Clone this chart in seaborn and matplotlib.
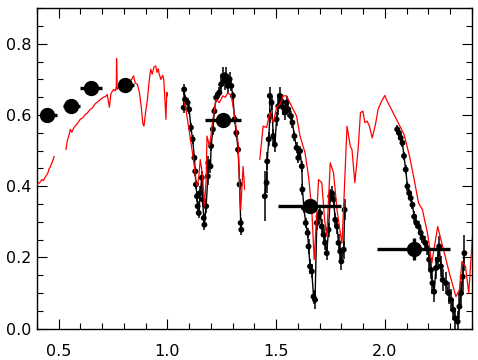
import numpy as np
import pandas as pd
import matplotlib
matplotlib.use("Agg")
import matplotlib.pyplot as plt
from matplotlib.ticker import MultipleLocator
import seaborn as sns

# model spectrum (red), split in pieces where the model has gaps
model_a_x = [0.400, 0.412, 0.423, 0.430, 0.437, 0.445, 0.451, 0.456, 0.460, 0.466, 0.470, 0.474, 0.479]
model_a_y = [0.405, 0.410, 0.419, 0.416, 0.425, 0.432, 0.439, 0.450, 0.453, 0.462, 0.468, 0.475, 0.484]

model_b_x = [0.533, 0.540, 0.548, 0.553, 0.560, 0.570, 0.580, 0.590, 0.599, 0.610, 0.620, 0.630,
             0.645, 0.655, 0.665, 0.680, 0.692, 0.705, 0.715, 0.723, 0.733, 0.740, 0.752, 0.760,
             0.765, 0.766, 0.769, 0.780, 0.795, 0.805, 0.815, 0.825, 0.835, 0.844, 0.852, 0.862,
             0.872, 0.880, 0.887, 0.892, 0.900, 0.908, 0.915, 0.923, 0.930, 0.938, 0.946, 0.952,
             0.958, 0.962, 0.970, 0.978, 0.983, 0.988, 0.993, 0.997, 1.000]
model_b_y = [0.503, 0.530, 0.545, 0.560, 0.552, 0.565, 0.572, 0.580, 0.588, 0.592, 0.600, 0.605,
             0.616, 0.620, 0.630, 0.638, 0.644, 0.650, 0.652, 0.658, 0.622, 0.660, 0.672, 0.668,
             0.680, 0.759, 0.672, 0.680, 0.676, 0.688, 0.691, 0.695, 0.700, 0.710, 0.690, 0.686,
             0.660, 0.620, 0.575, 0.569, 0.610, 0.644, 0.690, 0.729, 0.715, 0.735, 0.738, 0.720,
             0.730, 0.715, 0.700, 0.712, 0.701, 0.650, 0.588, 0.664, 0.654]

model_j_x = [1.077, 1.085, 1.099, 1.113, 1.124, 1.131, 1.139, 1.145, 1.151, 1.162, 1.170, 1.178,
             1.182, 1.193, 1.201, 1.209, 1.224, 1.239, 1.255, 1.266, 1.278, 1.294, 1.309, 1.325,
             1.331, 1.337, 1.348, 1.355]
model_j_y = [0.636, 0.616, 0.560, 0.503, 0.456, 0.410, 0.400, 0.433, 0.475, 0.428, 0.344, 0.419,
             0.541, 0.513, 0.546, 0.588, 0.644, 0.635, 0.654, 0.650, 0.663, 0.654, 0.597, 0.522,
             0.419, 0.334, 0.456, 0.391]

model_hk_x = [1.425, 1.440, 1.456, 1.471, 1.487, 1.502, 1.517, 1.533, 1.548, 1.571, 1.594, 1.610,
              1.633, 1.649, 1.664, 1.675, 1.687, 1.695, 1.710, 1.723, 1.733, 1.749, 1.764, 1.780,
              1.795, 1.803, 1.812, 1.826, 1.841, 1.849, 1.862, 1.877, 1.888, 1.899, 1.908, 1.919,
              1.929, 1.942, 1.957, 1.969, 1.985, 2.000, 2.011, 2.026, 2.042, 2.065, 2.088, 2.112,
              2.135, 2.155, 2.173, 2.196, 2.216, 2.243, 2.266, 2.297, 2.327, 2.343, 2.355, 2.371,
              2.386, 2.405]
model_hk_y = [0.475, 0.569, 0.565, 0.607, 0.579, 0.621, 0.630, 0.654, 0.654, 0.625, 0.597, 0.541,
              0.494, 0.428, 0.334, 0.194, 0.325, 0.419, 0.410, 0.306, 0.259, 0.466, 0.438, 0.334,
              0.269, 0.241, 0.363, 0.569, 0.513, 0.503, 0.410, 0.503, 0.607, 0.611, 0.579, 0.583,
              0.569, 0.536, 0.574, 0.616, 0.639, 0.655, 0.639, 0.621, 0.602, 0.574, 0.546, 0.489,
              0.419, 0.353, 0.334, 0.269, 0.184, 0.287, 0.231, 0.156, 0.090, 0.109, 0.189, 0.175,
              0.100, 0.278]

# observed spectrum (black) in J, H and K
obs_j_x = [1.075, 1.077, 1.081, 1.093, 1.100, 1.108, 1.116, 1.124, 1.128, 1.131, 1.136, 1.139,
           1.144, 1.151, 1.158, 1.162, 1.167, 1.170, 1.178, 1.186, 1.188, 1.198, 1.201, 1.209,
           1.216, 1.224, 1.232, 1.239, 1.247, 1.255, 1.263, 1.270, 1.278, 1.286, 1.294, 1.301,
           1.309, 1.317, 1.325, 1.332, 1.337, 1.340]
obs_j_y = [0.621, 0.672, 0.644, 0.635, 0.616, 0.565, 0.532, 0.480, 0.442, 0.405, 0.372, 0.344,
           0.325, 0.381, 0.424, 0.363, 0.311, 0.292, 0.344, 0.428, 0.466, 0.456, 0.513, 0.560,
           0.611, 0.649, 0.658, 0.663, 0.686, 0.710, 0.696, 0.710, 0.682, 0.701, 0.682, 0.654,
           0.588, 0.550, 0.503, 0.405, 0.297, 0.278]
obs_j_err = [0.015, 0.015, 0.012, 0.012, 0.012, 0.012, 0.012, 0.012, 0.012, 0.012, 0.015, 0.015,
             0.015, 0.020, 0.020, 0.020, 0.015, 0.015, 0.020, 0.025, 0.020, 0.020, 0.015, 0.015,
             0.012, 0.012, 0.012, 0.015, 0.020, 0.025, 0.025, 0.025, 0.020, 0.020, 0.015, 0.012,
             0.012, 0.012, 0.012, 0.015, 0.015, 0.015]

obs_h_x = [1.448, 1.456, 1.459, 1.466, 1.471, 1.471, 1.479, 1.487, 1.494, 1.502, 1.510, 1.517,
           1.525, 1.533, 1.540, 1.548, 1.556, 1.568, 1.575, 1.584, 1.594, 1.602, 1.610, 1.618,
           1.621, 1.628, 1.636, 1.645, 1.649, 1.656, 1.664, 1.672, 1.679, 1.687, 1.695, 1.702,
           1.710, 1.718, 1.725, 1.733, 1.741, 1.749, 1.756, 1.764, 1.772, 1.780, 1.787, 1.795,
           1.800, 1.811, 1.815]
obs_h_y = [0.372, 0.410, 0.470, 0.532, 0.597, 0.654, 0.635, 0.541, 0.517, 0.588, 0.625, 0.654,
           0.639, 0.621, 0.607, 0.635, 0.616, 0.597, 0.579, 0.541, 0.508, 0.480, 0.499, 0.456,
           0.391, 0.339, 0.297, 0.269, 0.231, 0.175, 0.161, 0.090, 0.081, 0.297, 0.315, 0.325,
           0.287, 0.264, 0.241, 0.212, 0.278, 0.372, 0.381, 0.363, 0.306, 0.287, 0.241, 0.217,
           0.189, 0.222, 0.334]
obs_h_err = [0.070, 0.030, 0.025, 0.020, 0.020, 0.025, 0.020, 0.020, 0.020, 0.020, 0.025, 0.025,
             0.020, 0.020, 0.020, 0.020, 0.020, 0.015, 0.015, 0.015, 0.015, 0.015, 0.015, 0.015,
             0.015, 0.015, 0.015, 0.015, 0.020, 0.020, 0.020, 0.020, 0.025, 0.020, 0.020, 0.020,
             0.020, 0.020, 0.020, 0.020, 0.020, 0.020, 0.020, 0.020, 0.020, 0.020, 0.025, 0.025,
             0.025, 0.025, 0.030]

obs_k_x = [2.057, 2.065, 2.073, 2.081, 2.088, 2.096, 2.104, 2.112, 2.119, 2.127, 2.135, 2.145,
           2.155, 2.165, 2.173, 2.186, 2.196, 2.204, 2.212, 2.219, 2.227, 2.235, 2.243, 2.250,
           2.258, 2.266, 2.281, 2.294, 2.304, 2.315, 2.324, 2.335, 2.343, 2.351, 2.358, 2.366]
obs_k_y = [0.560, 0.550, 0.536, 0.522, 0.485, 0.447, 0.400, 0.381, 0.367, 0.348, 0.315, 0.297,
           0.287, 0.269, 0.255, 0.241, 0.226, 0.194, 0.165, 0.128, 0.104, 0.170, 0.194, 0.231,
           0.175, 0.137, 0.128, 0.100, 0.081, 0.053, 0.029, 0.020, 0.062, 0.100, 0.146, 0.212]
obs_k_err = [0.012, 0.012, 0.012, 0.012, 0.012, 0.012, 0.012, 0.012, 0.012, 0.012, 0.015, 0.015,
             0.015, 0.015, 0.015, 0.020, 0.020, 0.025, 0.025, 0.030, 0.030, 0.030, 0.030, 0.030,
             0.030, 0.030, 0.030, 0.030, 0.030, 0.030, 0.030, 0.030, 0.035, 0.035, 0.040, 0.050]

# broad-band photometry
phot_x = [0.445, 0.555, 0.650, 0.807, 1.255, 1.656, 2.135]
phot_y = [0.600, 0.625, 0.677, 0.684, 0.586, 0.344, 0.224]
phot_xlo = [0.420, 0.520, 0.600, 0.775, 1.175, 1.510, 1.965]
phot_xhi = [0.490, 0.600, 0.700, 0.845, 1.340, 1.800, 2.300]
phot_yerr = [0.010, 0.010, 0.010, 0.010, 0.010, 0.010, 0.030]


def frame(pieces):
    rows = []
    for i, (xs, ys) in enumerate(pieces):
        rows.append(pd.DataFrame({"wave": xs, "flux": ys, "seg": i}))
    return pd.concat(rows, ignore_index=True)


model = frame([(model_a_x, model_a_y), (model_b_x, model_b_y),
               (model_j_x, model_j_y), (model_hk_x, model_hk_y)])
obs = frame([(obs_j_x, obs_j_y), (obs_h_x, obs_h_y), (obs_k_x, obs_k_y)])
obs["err"] = obs_j_err + obs_h_err + obs_k_err

sns.set_theme(style="ticks")
plt.rcParams["font.family"] = ["DejaVu Sans"]

fig = plt.figure(figsize=(4.78, 3.6), dpi=100)
ax = fig.add_axes([0.0774, 0.087, 0.9096, 0.890])

# observed spectrum
ax.errorbar(obs["wave"], obs["flux"], yerr=obs["err"], fmt="none",
            ecolor="black", elinewidth=1.1, capsize=0, zorder=2)
sns.lineplot(data=obs, x="wave", y="flux", units="seg", estimator=None,
             sort=False, color="black", linewidth=1.0, ax=ax, zorder=2)
sns.scatterplot(data=obs, x="wave", y="flux", color="black", s=18,
                edgecolor="none", ax=ax, zorder=3)

# model
sns.lineplot(data=model, x="wave", y="flux", units="seg", estimator=None,
             sort=False, color="red", linewidth=0.9, ax=ax, zorder=4)

# photometry
px = np.array(phot_x)
ax.errorbar(px, phot_y, yerr=phot_yerr,
            xerr=[px - np.array(phot_xlo), np.array(phot_xhi) - px],
            fmt="o", color="black", markersize=10, elinewidth=2.4,
            capsize=0, zorder=5)

ax.set_xlim(0.4, 2.4)
ax.set_ylim(0.0, 0.9)
ax.set_xlabel("")
ax.set_ylabel("")
ax.xaxis.set_major_locator(MultipleLocator(0.5))
ax.xaxis.set_minor_locator(MultipleLocator(0.1))
ax.yaxis.set_major_locator(MultipleLocator(0.2))
ax.yaxis.set_minor_locator(MultipleLocator(0.05))
ax.tick_params(which="both", direction="in", top=True, right=True,
               colors="black", labelsize=11.5, width=0.8)
ax.tick_params(which="major", length=7)
ax.tick_params(which="minor", length=4)
ax.tick_params(axis="x", which="major", pad=11)
ax.tick_params(axis="y", which="major", pad=4)
for sp in ax.spines.values():
    sp.set_visible(True)
    sp.set_color("black")
    sp.set_linewidth(1.0)

fig.savefig("out.png", dpi=100)
